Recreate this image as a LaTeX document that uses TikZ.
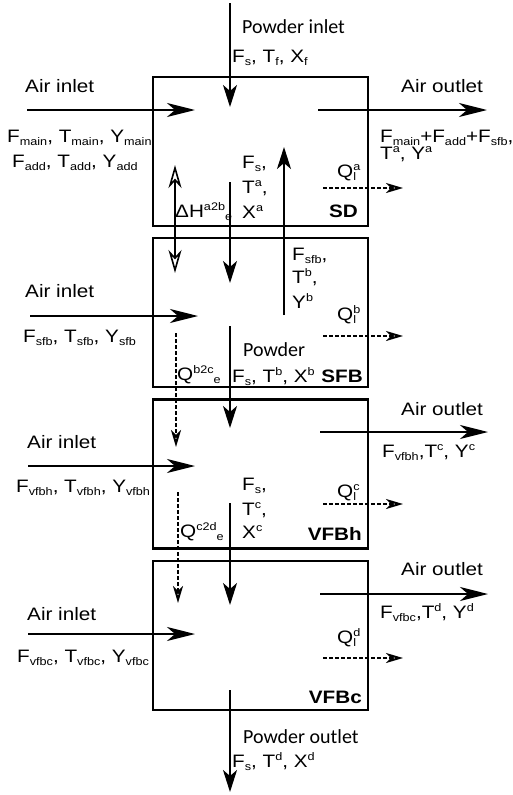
\documentclass[tikz,border=0pt]{standalone}
\usepackage{fontspec}
\setmainfont[FakeStretch=1.15]{Liberation Sans}
\newfontfamily\carlito{Carlito}
\usetikzlibrary{arrows.meta}

\newcommand\lo[1]{\raisebox{-3pt}{\fontsize{11}{11}\selectfont #1}}
\newcommand\hi[1]{\raisebox{7pt}{\fontsize{11}{11}\selectfont #1}}
\newcommand\hilo[2]{\rlap{\hi{#1}}\lo{#2}}

\tikzset{
  unit/.style={draw, line width=2.4pt, minimum width=215pt, minimum height=149pt, inner sep=0pt},
  txt/.style={anchor=base west, inner sep=0pt, font=\fontsize{18}{21}\selectfont},
  tag/.style={anchor=base east, inner sep=0pt, font=\fontsize{18}{21}\selectfont\bfseries},
  pow/.style={anchor=base west, inner sep=0pt, font=\fontsize{20}{22}\selectfont\carlito},
  flow/.style={line width=2pt, -{Stealth[length=28pt,width=14pt,inset=8pt]}},
  pflow/.style={line width=2pt, -{Stealth[length=22pt,width=14pt,inset=6pt]}},
  heat/.style={line width=2pt, dash pattern=on 4pt off 2pt, -{Stealth[open,length=17pt,width=10pt,inset=5pt]}},
  jump/.style={line width=1.6pt, {Stealth[open,length=23pt,width=13pt,inset=7pt]}-{Stealth[open,length=23pt,width=13pt,inset=7pt]}}
}

\begin{document}
\begin{tikzpicture}[x=1pt, y=-1pt]
      \useasboundingbox (0,0) rectangle (512,795);
      % units
      \node[unit] (sd) at (260.5,151.5) {};
      \node[unit] (sfb) at (260.5,312.5) {};
      \node[unit] (vfbh) at (260.5,474) {};
      \node[unit] (vfbc) at (260.5,635.5) {};
      \node[tag] (sdname) at (358,217) {SD};
      \node[tag] (sfbname) at (363,382) {SFB};
      \node[tag] (vfbhname) at (362,540) {VFBh};
      \node[tag] (vfbcname) at (362,703) {VFBc};

      % spray dryer
      \coordinate (pin0) at (230,3);   \coordinate (pin1) at (230,107);
      \coordinate (sdin0) at (27,110); \coordinate (sdin1) at (195,110);
      \coordinate (sdout0) at (318,110); \coordinate (sdout1) at (487,110);
      \coordinate (pab0) at (230,182); \coordinate (pab1) at (230,283);
      \coordinate (fines0) at (284,315); \coordinate (fines1) at (284,147);
      \coordinate (hab0) at (175,165); \coordinate (hab1) at (175,273);
      \coordinate (qa0) at (323,188); \coordinate (qa1) at (403,188);
      \draw[pflow] (pin0) -- (pin1);
      \draw[flow] (sdin0) -- (sdin1);
      \draw[flow] (sdout0) -- (sdout1);
      \draw[pflow] (pab0) -- (pab1);
      \draw[pflow] (fines0) -- (fines1);
      \draw[jump] (hab0) -- (hab1);
      \draw[heat] (qa0) -- (qa1);
      \node[pow] (powin) at (242,33) {Powder inlet};
      \node[txt] (powinvar) at (232,62) {F\lo{s}, T\lo{f}, X\lo{f}};
      \node[txt] (sdairin) at (25,92) {Air inlet};
      \node[txt] (sdmain) at (7,142) {F\lo{main}, T\lo{main}, Y\lo{main}};
      \node[txt] (sdadd) at (12,167) {F\lo{add}, T\lo{add}, Y\lo{add}};
      \node[txt] (sdairout) at (401,92) {Air outlet};
      \node[txt] (sdoutvar) at (380,142) {F\lo{main}+F\lo{add}+F\lo{sfb},};
      \node[txt] (sdoutvarb) at (380,159) {T\hi{a}, Y\hi{a}};
      \node[txt] (sdfs) at (242,168) {F\lo{s},};
      \node[txt] (sdta) at (242,193) {T\hi{a},};
      \node[txt] (sdxa) at (242,218) {X\hi{a}};
      \node[txt] (sdheat) at (175,217) {ΔH\hi{a2b}\lo{e}};
      \node[txt] (sdloss) at (337,177) {Q\hilo{a}{l}};

      % spray fluid bed
      \coordinate (sfbin0) at (30,316); \coordinate (sfbin1) at (198,316);
      \coordinate (qb0) at (323,336); \coordinate (qb1) at (403,336);
      \coordinate (pbc0) at (230,326); \coordinate (pbc1) at (230,428);
      \coordinate (hbc0) at (176,333); \coordinate (hbc1) at (176,447);
      \draw[flow] (sfbin0) -- (sfbin1);
      \draw[heat] (qb0) -- (qb1);
      \draw[pflow] (pbc0) -- (pbc1);
      \draw[heat] (hbc0) -- (hbc1);
      \node[txt] (sfbfs) at (292,260) {F\lo{sfb},};
      \node[txt] (sfbtb) at (292,283) {T\hi{b},};
      \node[txt] (sfbyb) at (292,308) {Y\hi{b}};
      \node[txt] (sfbairin) at (25,297) {Air inlet};
      \node[txt] (sfbinvar) at (23,342) {F\lo{sfb}, T\lo{sfb}, Y\lo{sfb}};
      \node[txt] (sfbloss) at (337,320) {Q\hilo{b}{l}};
      \node[txt] (sfbheat) at (177,380) {Q\hi{b2c}\lo{e}};
      \node[pow] (sfbpow) at (243,356) {Powder};
      \node[txt] (sfbpowvar) at (232,382) {F\lo{s}, T\hi{b}, X\hi{b}};

      % vibrating fluid bed, hot
      \coordinate (vhout0) at (320,432); \coordinate (vhout1) at (488,432);
      \coordinate (vhin0) at (28,466); \coordinate (vhin1) at (195,466);
      \coordinate (qc0) at (323,504); \coordinate (qc1) at (403,504);
      \coordinate (pcd0) at (230,503); \coordinate (pcd1) at (230,605);
      \coordinate (hcd0) at (178,492); \coordinate (hcd1) at (178,603);
      \draw[flow] (vhout0) -- (vhout1);
      \draw[flow] (vhin0) -- (vhin1);
      \draw[heat] (qc0) -- (qc1);
      \draw[pflow] (pcd0) -- (pcd1);
      \draw[heat] (hcd0) -- (hcd1);
      \node[txt] (vhairout) at (401,415) {Air outlet};
      \node[txt] (vhoutvar) at (382,457) {F\lo{vfbh},T\hi{c}, Y\hi{c}};
      \node[txt] (vhairin) at (27,448) {Air inlet};
      \node[txt] (vhinvar) at (16,492) {F\lo{vfbh}, T\lo{vfbh}, Y\lo{vfbh}};
      \node[txt] (vhfs) at (242,490) {F\lo{s},};
      \node[txt] (vhtc) at (242,515) {T\hi{c},};
      \node[txt] (vhxc) at (242,538) {X\hi{c}};
      \node[txt] (vhloss) at (337,497) {Q\hilo{c}{l}};
      \node[txt] (vhheat) at (180,537) {Q\hi{c2d}\lo{e}};

      % vibrating fluid bed, cold
      \coordinate (vcout0) at (320,594); \coordinate (vcout1) at (488,594);
      \coordinate (vcin0) at (28,634); \coordinate (vcin1) at (195,634);
      \coordinate (qd0) at (323,658); \coordinate (qd1) at (403,658);
      \coordinate (pout0) at (230,690); \coordinate (pout1) at (230,792);
      \draw[flow] (vcout0) -- (vcout1);
      \draw[flow] (vcin0) -- (vcin1);
      \draw[heat] (qd0) -- (qd1);
      \draw[pflow] (pout0) -- (pout1);
      \node[txt] (vcairout) at (401,575) {Air outlet};
      \node[txt] (vcoutvar) at (380,618) {F\lo{vfbc},T\hi{d}, Y\hi{d}};
      \node[txt] (vcairin) at (27,620) {Air inlet};
      \node[txt] (vcinvar) at (17,662) {F\lo{vfbc}, T\lo{vfbc}, Y\lo{vfbc}};
      \node[txt] (vcloss) at (337,643) {Q\hilo{d}{l}};
      \node[pow] (powout) at (243,743) {Powder outlet};
      \node[txt] (powoutvar) at (232,767) {F\lo{s}, T\hi{d}, X\hi{d}};
    \end{tikzpicture}
\end{document}
